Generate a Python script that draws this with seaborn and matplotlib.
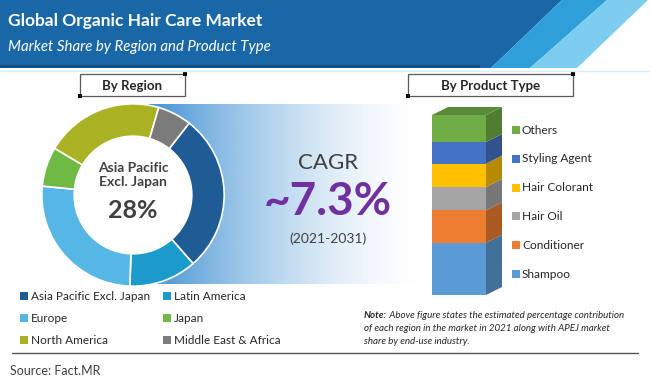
import numpy as np
import pandas as pd
import matplotlib
matplotlib.use("Agg")
import matplotlib.pyplot as plt
import seaborn as sns
from matplotlib.patches import Rectangle, Polygon, Circle
from matplotlib.colors import to_rgb

TITLE = "Global Organic Hair Care Market"
SUBTITLE = "Market Share by Region and Product Type"

# Region split (2021), clockwise from the top
REGIONS = ["Asia Pacific Excl. Japan", "Latin America", "Europe", "Japan",
           "North America", "Middle East & Africa"]
REGION_SHARE = [28, 12, 26, 7, 21, 6]
REGION_COLORS = ["#1f5b94", "#1b9bcc", "#56b6e6", "#6fb944", "#a9b223", "#7b7b7b"]

# APEJ product split, bottom to top
PRODUCTS = ["Shampoo", "Conditioner", "Hair Oil", "Hair Colorant", "Styling Agent", "Others"]
PRODUCT_SHARE = [29, 18, 13, 13, 12, 15]
PRODUCT_COLORS = ["#5b9bd5", "#ed7d31", "#a5a5a5", "#ffc000", "#4472c4", "#70ad47"]

CAGR = "~7.3%"
CAGR_PERIOD = "(2021-2031)"
NOTE = ("Above figure states the estimated percentage contribution",
        "of each region in the market in 2021 along with APEJ market",
        "share by end-use industry.")
SOURCE = "Source: Fact.MR"

W, H = 650, 381
TXT = "#404040"


def darker(c, f=0.72):
    return tuple(v * f for v in to_rgb(c))


sns.set_theme(style="white")
plt.rcParams["font.family"] = ["Lato", "DejaVu Sans"]

fig = plt.figure(figsize=(W / 100, H / 100), dpi=100)


def px_axes(x0, y0, x1, y1):
    return fig.add_axes([x0 / W, 1 - y1 / H, (x1 - x0) / W, (y1 - y0) / H])


# background canvas in pixel units
bg = fig.add_axes([0, 0, 1, 1])
bg.set_xlim(0, W)
bg.set_ylim(H, 0)
bg.set_autoscale_on(False)
bg.axis("off")

# header
bg.add_patch(Polygon([(0, 0), (562, 0), (491, 68), (0, 68)], color="#1a67a8", lw=0))
bg.add_patch(Rectangle((0, 65), 480, 3, color="#0f4f88", lw=0))
bg.add_patch(Polygon([(562, 0), (607, 0), (530, 68), (491, 68)], color="#2e9fd8", lw=0))
bg.add_patch(Polygon([(607, 0), (648, 0), (577, 68), (530, 68)], color="#7ccdef", lw=0))
bg.plot([0, W], [70.5, 70.5], color="#d5f0fa", lw=1)
bg.text(8, 21, TITLE, color="white", fontsize=12.5, fontweight="bold", va="center")
bg.text(8, 47, SUBTITLE, color="white", fontsize=10.8, style="italic", va="center")

# gradient band behind the CAGR
blue = np.array(to_rgb("#3d8fd2"))
t = np.linspace(0, 1, 300)
alpha = (1 - t) ** 1.6
grad = np.ones((1, t.size, 4))
grad[0, :, :3] = blue
grad[0, :, 3] = alpha
bg.imshow(grad, extent=[145, 425, 284, 104], aspect="auto", zorder=0)

# section boxes
for (x0, x1, label) in [(80, 185, "By Region"), (408, 573, "By Product Type")]:
    bg.add_patch(Rectangle((x0, 74), x1 - x0, 22, facecolor="white", edgecolor="#595959", lw=0.9))
    bg.add_patch(Rectangle((x1 - 2, 72), 4, 4, color="black", lw=0))
    bg.add_patch(Rectangle((x0 - 2, 94), 4, 4, color="black", lw=0))
    bg.text((x0 + x1) / 2, 85.5, label, color="#262626", fontsize=9.5, fontweight="bold",
            ha="center", va="center")

# donut
ax = px_axes(40, 102, 226, 288)
ax.pie(REGION_SHARE, colors=REGION_COLORS, startangle=52, counterclock=False, radius=1,
       wedgeprops=dict(width=0.355, edgecolor="white", linewidth=1.2))
ax.add_patch(Circle((0, 0), 0.65, color="white", zorder=0.5))
ax.set_xlim(-1.02, 1.02)
ax.set_ylim(-1.02, 1.02)
ax.axis("off")

ax.text(133, 175, "Asia Pacific\nExcl. Japan", color=TXT, fontsize=10, fontweight="bold",
        ha="center", va="center", linespacing=1.15, transform=bg.transData)
ax.text(133, 210, f"{REGION_SHARE[0]}%", color=TXT, fontsize=18, fontweight="bold",
        ha="center", va="center", transform=bg.transData)

# region legend, row-major
for k, (name, col) in enumerate(zip(REGIONS, REGION_COLORS)):
    row, c = divmod(k, 2)
    x = 20 + c * 143
    y = 296 + row * 22
    bg.add_patch(Rectangle((x, y - 4), 8, 8, color=col, lw=0))
    bg.text(x + 11, y, name, color="#262626", fontsize=8.5, va="center")

# CAGR
bg.text(328, 163, "CAGR", color=TXT, fontsize=16, ha="center", va="center")
bg.text(328, 202, CAGR, color="#7030a0", fontsize=33, fontweight="bold", ha="center", va="center")
bg.text(328, 239, CAGR_PERIOD, color=TXT, fontsize=10, ha="center", va="center")

# 3D stacked bar
bx = px_axes(409, 100, 509, 295)
df = pd.DataFrame({"product": PRODUCTS, "share": PRODUCT_SHARE, "color": PRODUCT_COLORS})
df["top"] = df["share"].cumsum()
df["bottom"] = df["top"] - df["share"]
for row in df[::-1].itertuples():
    sns.barplot(x=["APEJ"], y=[row.top], color=row.color, width=0.54, saturation=1,
                linewidth=0, ax=bx)
half = 0.27
dx, dy = 0.16, 8 * 100 / 180
for row in df.itertuples():
    bx.add_patch(Polygon([(half, row.bottom), (half + dx, row.bottom + dy),
                          (half + dx, row.top + dy), (half, row.top)],
                         color=darker(row.color), lw=0))
total = df["top"].iloc[-1]
bx.add_patch(Polygon([(-half, total), (half, total), (half + dx, total + dy), (-half + dx, total + dy)],
                     color=darker(PRODUCT_COLORS[-1], 0.8), lw=0))
bx.set_xlim(-0.5, 0.5)
bx.set_ylim(0, 100 * 195 / 180)
bx.axis("off")

for i, (name, col) in enumerate(zip(PRODUCTS, PRODUCT_COLORS)):
    y = 274 - i * 28.8
    bg.add_patch(Rectangle((512, y - 4), 7.5, 8, color=col, lw=0))
    bg.text(522, y, name, color="#262626", fontsize=8.6, va="center")

# note
note = bg.text(364, 315, "Note:", color="#262626", fontsize=7, fontweight="bold",
               style="italic", va="center")
bg.annotate(" " + NOTE[0], xy=(1, 0), xycoords=note, va="bottom", color="#262626",
            fontsize=7, style="italic")
for j, line in enumerate(NOTE[1:], start=1):
    bg.text(364, 315 + j * 13.5, line, color="#262626", fontsize=7, style="italic", va="center")

bg.plot([12, 638], [353, 353], color="#555555", lw=1)
bg.text(10, 371, SOURCE, color=TXT, fontsize=9, va="center")

fig.savefig("out.png", dpi=100)
